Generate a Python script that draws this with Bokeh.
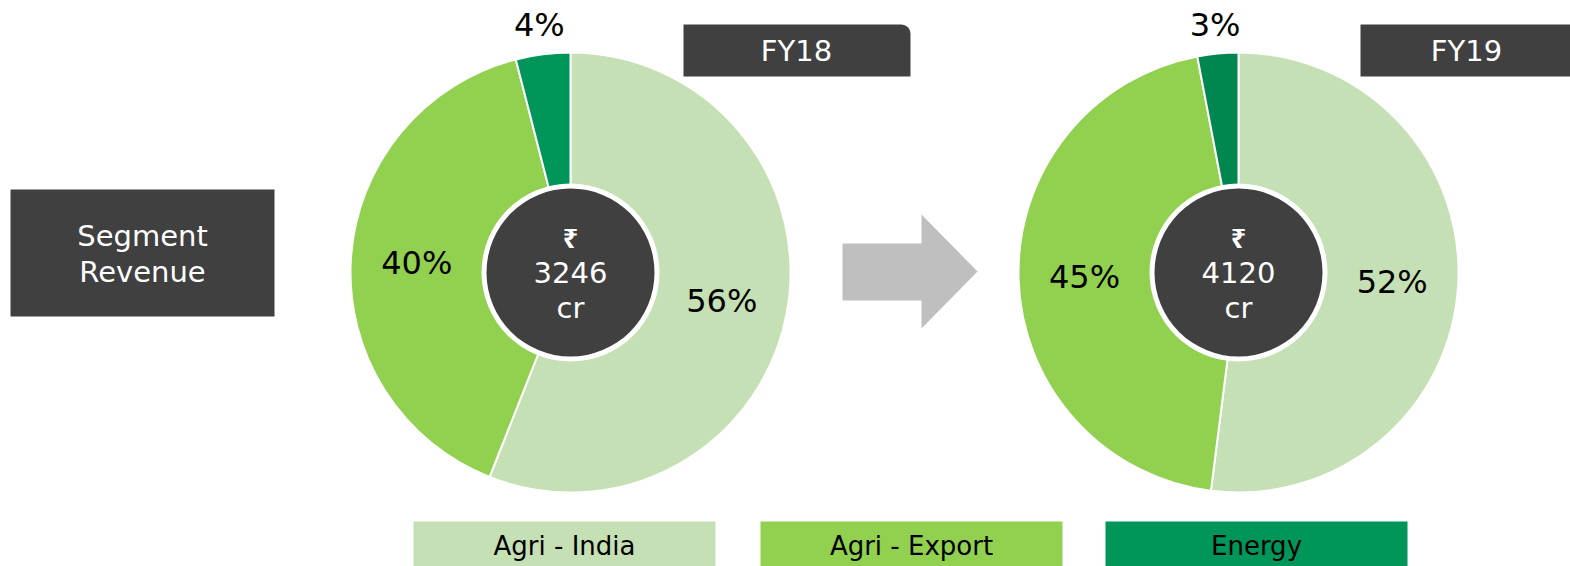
import math
from bokeh.plotting import figure
from bokeh.models import Range1d, BoxAnnotation, ColumnDataSource
from bokeh.core.properties import value
from bokeh.embed import file_html
from bokeh.resources import INLINE

# ---- data ----
segments = ["Agri - India", "Agri - Export", "Energy"]
years = ["FY18", "FY19"]
fy18_share = [56, 40, 4]
fy19_share = [52, 45, 3]
totals = ["3246", "4120"]
title_text = ["Segment", "Revenue"]

col_india = "#C5E0B4"
col_export = "#92D050"
col_energy18 = "#00965A"
col_energy19 = "#00874F"
dark = "#404040"

W, H = 1570, 566
p = figure(width=W, height=H, output_backend="svg", toolbar_location=None,
           x_range=Range1d(0, W), y_range=Range1d(0, H), min_border=0)
p.axis.visible = False
p.grid.visible = False
p.outline_line_color = None
p.background_fill_color = "white"

def X(px):
    return px

def Y(py):
    return H - py

FONT = value("DejaVu Sans")

# Title box
p.quad(left=X(10), right=X(274), top=Y(189), bottom=Y(316), fill_color=dark, line_color=None)
p.text(x=[X(142), X(142)], y=[Y(235), Y(271)], text=title_text, text_color="white",
       text_font=FONT, text_font_size="29px", text_align="center", text_baseline="middle")

# Arrow
ax = [842, 921, 921, 977, 921, 921, 842]
ay = [243, 243, 214, 271, 328, 300, 300]
p.patch(x=[X(v) for v in ax], y=[Y(v) for v in ay], fill_color="#BFBFBF", line_color=None)

def donut(cx, cy, shares, energy_col, total, year, box_left, box_right, text_x):
    cols = [col_india, col_export, energy_col]
    cum = 0
    starts, ends = [], []
    for s in shares:
        starts.append(math.pi / 2 - 2 * math.pi * cum / 100)
        cum += s
        ends.append(math.pi / 2 - 2 * math.pi * cum / 100)
    src = ColumnDataSource(dict(start=starts, end=ends, color=cols))
    p.wedge(x=X(cx), y=Y(cy), radius=220, start_angle="start", end_angle="end",
            direction="clock", fill_color="color", line_color="white", line_width=2, source=src)
    # labels
    cum = 0
    lx, ly, lt = [], [], []
    for s in shares:
        mid = (cum + s / 2) / 100 * 2 * math.pi
        cum += s
        r = 154 if s > 10 else 249
        lx.append(X(cx) + r * math.sin(mid))
        ly.append(Y(cy) + r * math.cos(mid))
        lt.append(f"{s}%")
    p.text(x=lx, y=ly, text=lt, text_color="black", text_font=FONT, text_font_size="32px",
           text_align="center", text_baseline="middle")
    # centre
    p.circle(x=X(cx), y=Y(cy), radius=89, fill_color="white", line_color=None)
    p.circle(x=X(cx), y=Y(cy), radius=84, fill_color=dark, line_color=None)
    p.text(x=[X(cx)], y=[Y(cy - 35)], text=["\u20b9"], text_color="white", text_font=value("Noto Sans"),
           text_font_size="27px", text_align="center", text_baseline="middle", text_font_style="bold")
    p.text(x=[X(cx), X(cx)], y=[Y(cy), Y(cy + 35)], text=[total, "cr"], text_color="white",
           text_font=FONT, text_font_size="29px", text_align="center", text_baseline="middle")
    # year box
    p.add_layout(BoxAnnotation(left=X(box_left), right=X(box_right), top=Y(24), bottom=Y(76),
                               fill_color=dark, fill_alpha=1, line_color=None,
                               border_radius=(0, 9, 0, 0), level="underlay"))
    p.text(x=[X(text_x)], y=[Y(50)],
           text=[year], text_color="white", text_font=FONT, text_font_size="29px",
           text_align="center", text_baseline="middle")

donut(570, 272, fy18_share, col_energy18, totals[0], years[0], 683, 910, 796)
donut(1238, 272, fy19_share, col_energy19, totals[1], years[1], 1360, 1600, 1466)

# legend boxes
lefts = [413, 760, 1105]
lcols = [col_india, col_export, col_energy18]
for l, c, name in zip(lefts, lcols, segments):
    p.quad(left=X(l), right=X(l + 302), top=Y(521), bottom=Y(566), fill_color=c, line_color=None)
    p.text(x=[X(l + 151)], y=[Y(545)], text=[name], text_color="black", text_font=FONT,
           text_font_size="26px", text_align="center", text_baseline="middle")

open("out.html", "w").write(file_html(p, INLINE))
